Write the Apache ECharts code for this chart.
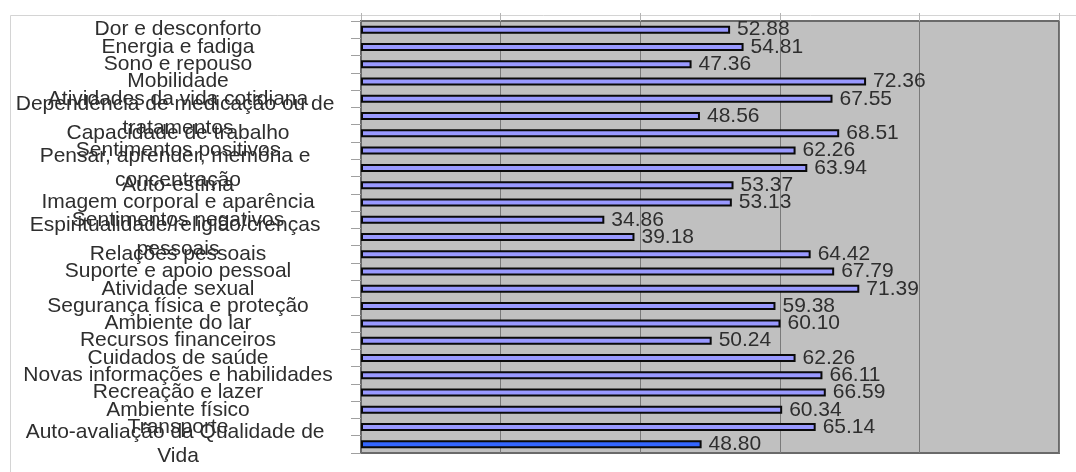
<!DOCTYPE html>
<html>
<head>
<meta charset="utf-8">
<script src="https://cdn.jsdelivr.net/npm/echarts@6/dist/echarts.min.js"></script>
<style>
  html, body { margin: 0; padding: 0; background: #fff; }
  #chart { width: 1076px; height: 472px; }
</style>
</head>
<body>
<div id="chart"></div>
<script>
// domains, top to bottom
const categories = [
  'Dor e desconforto',
  'Energia e fadiga',
  'Sono e repouso',
  'Mobilidade',
  'Atividades da vida cotidiana',
  'Dependência de medicação ou de tratamentos',
  'Capacidade de trabalho',
  'Sentimentos positivos',
  'Pensar, aprender, memória e concentração',
  'Auto-estima',
  'Imagem corporal e aparência',
  'Sentimentos negativos',
  'Espiritualidade/religião/crenças pessoais',
  'Relações pessoais',
  'Suporte e apoio pessoal',
  'Atividade sexual',
  'Segurança física e proteção',
  'Ambiente do lar',
  'Recursos financeiros',
  'Cuidados de saúde',
  'Novas informações e habilidades',
  'Recreação e lazer',
  'Ambiente físico',
  'Transporte',
  'Auto-avaliação da Qualidade de Vida'
]
const scores = [
  52.88, 54.81, 47.36, 72.36, 67.55, 48.56, 68.51, 62.26, 63.94, 53.37,
  53.13, 34.86, 39.18, 64.42, 67.79, 71.39, 59.38, 60.10, 50.24, 62.26,
  66.11, 66.59, 60.34, 65.14, 48.80
]
const xMin = 0
const xMax = 100
const xStep = 20

const font = '"Liberation Sans", Arial, sans-serif'
const lastIdx = scores.length - 1

const chart = echarts.init(document.getElementById('chart'), null, { renderer: 'canvas' })

chart.setOption({
  animation: false,
  backgroundColor: '#fff',
  graphic: [
    {
      type: 'rect',
      left: 8, top: 13,
      shape: { width: 1200, height: 600 },
      style: { fill: 'none', stroke: '#d4d4d4', lineWidth: 1 },
      silent: true,
      z: -10
    }
  ],
  grid: [
    {
      left: 361, right: 17, top: 21, bottom: 19,
      outerBoundsMode: 'none',
      show: true,
      backgroundColor: '#c0c0c0',
      borderColor: '#6a6a6a',
      borderWidth: 2
    },
    // strip above the plot where the column lines show through
    { left: 361, right: 17, top: 13, height: 8, outerBoundsMode: 'none' }
  ],
  xAxis: [
    {
      type: 'value', gridIndex: 0,
      min: xMin, max: xMax, interval: xStep,
      axisLabel: { show: false },
      axisLine: { show: false },
      axisTick: { show: false },
      splitLine: { show: true, lineStyle: { color: '#7a7a7a', width: 1 } }
    },
    {
      type: 'value', gridIndex: 1,
      min: xMin, max: xMax, interval: xStep,
      axisLabel: { show: false },
      axisLine: { show: false },
      axisTick: { show: false },
      splitLine: { show: true, lineStyle: { color: '#b4b4b4', width: 1 } }
    }
  ],
  yAxis: [
    {
      type: 'category', gridIndex: 0,
      data: categories,
      inverse: true,
      axisLine: { show: true, lineStyle: { color: '#6a6a6a', width: 2 } },
      axisTick: { show: true, length: 10, lineStyle: { color: '#a0a0a0' } },
      axisLabel: {
        interval: 0,
        margin: 183,
        align: 'center',
        width: 360,
        overflow: 'break',
        lineHeight: 24,
        fontFamily: font,
        fontSize: 21,
        color: '#2e2e2e'
      }
    },
    {
      type: 'category', gridIndex: 1,
      data: [''],
      show: false
    }
  ],
  series: [
    {
      type: 'bar',
      xAxisIndex: 0, yAxisIndex: 0,
      barWidth: 8,
      data: scores.map((v, i) => i === lastIdx
        ? { value: v, itemStyle: { color: '#3366ff' } }
        : v),
      itemStyle: {
        color: '#9999ff',
        borderColor: '#0a0a0a',
        borderWidth: 2
      },
      label: {
        show: true,
        position: 'right',
        distance: 7,
        fontFamily: font,
        fontSize: 21,
        color: '#2e2e2e',
        formatter: p => p.value.toFixed(2)
      }
    }
  ]
})

window.addEventListener('resize', () => chart.resize())
</script>
</body>
</html>
